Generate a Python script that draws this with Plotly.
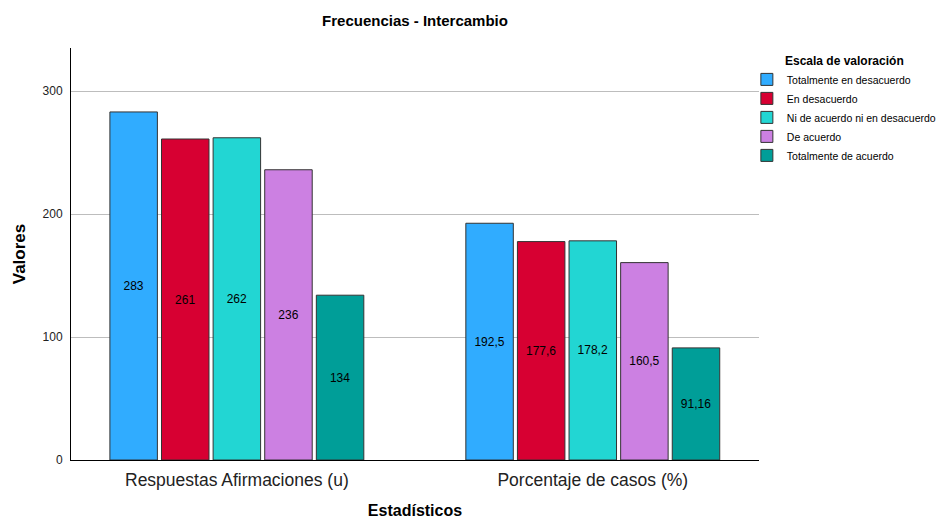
import plotly.graph_objects as go

categories = ["Respuestas Afirmaciones (u)", "Porcentaje de casos (%)"]
series_names = [
    "Totalmente en desacuerdo",
    "En desacuerdo",
    "Ni de acuerdo ni en desacuerdo",
    "De acuerdo",
    "Totalmente de acuerdo",
]
respuestas = [283, 261, 262, 236, 134]
porcentaje = [192.5, 177.6, 178.2, 160.5, 91.16]
labels_respuestas = ["283", "261", "262", "236", "134"]
labels_porcentaje = ["192,5", "177,6", "178,2", "160,5", "91,16"]
colors = ["#30ACFF", "#D70032", "#22D6D3", "#CC80E2", "#009E98"]
y_ticks = [0, 100, 200, 300]

FONT = "Liberation Sans, Arial, sans-serif"

fig = go.Figure()
for i, name in enumerate(series_names):
    fig.add_trace(go.Bar(
        name=name,
        x=[0, 1],
        y=[respuestas[i], porcentaje[i]],
        text=[labels_respuestas[i], labels_porcentaje[i]],
        textposition="inside",
        insidetextanchor="middle",
        textangle=0,
        textfont=dict(family=FONT, size=12, color="#000000"),
        marker=dict(color=colors[i], line=dict(color="#333333", width=1)),
    ))

fig.update_layout(
    width=949, height=519,
    margin=dict(l=71, r=190, t=48, b=59, autoexpand=False),
    paper_bgcolor="white", plot_bgcolor="white",
    font=dict(family=FONT, color="#000000"),
    barmode="group",
    bargap=0.275,
    bargroupgap=0.08,
    title=dict(text="<b>Frecuencias - Intercambio</b>", x=0.5, xanchor="center",
               xref="paper", yref="container",
               y=0.96, yanchor="middle", font=dict(size=15)),
    showlegend=True,
    legend=dict(
        xref="container", yref="container",
        x=0.787, xanchor="left", y=0.905, yanchor="top",
        title=dict(text="<b>Escala de valoración</b>", side="top center",
                   font=dict(size=12)),
        font=dict(size=10.5),
        traceorder="normal",
        itemwidth=30,
        tracegroupgap=0,
        bgcolor="rgba(0,0,0,0)",
    ),
)

fig.update_xaxes(
    range=[-0.466, 1.467],
    tickmode="array", tickvals=[0, 1], ticktext=categories,
    tickfont=dict(size=17.5, color="#222222"),
    showline=True, linecolor="#000000", linewidth=1,
    showgrid=False, ticks="", automargin=False, ticklabelstandoff=4,
    title=dict(text="<b>Estadísticos</b>", font=dict(size=16), standoff=22),
)
fig.update_yaxes(
    range=[0, 335],
    tickmode="array", tickvals=y_ticks,
    tickfont=dict(size=12, color="#222222"),
    showline=True, linecolor="#000000", linewidth=1,
    showgrid=True, gridcolor="#BDBDBD", gridwidth=1,
    zeroline=False, ticks="", ticklabelstandoff=5, automargin=False,
    title=dict(text="<b>Valores</b>", font=dict(size=17), standoff=12),
)

fig.write_html("out.html", config={"displayModeBar": False},
               post_script="document.body.style.margin='0';")
